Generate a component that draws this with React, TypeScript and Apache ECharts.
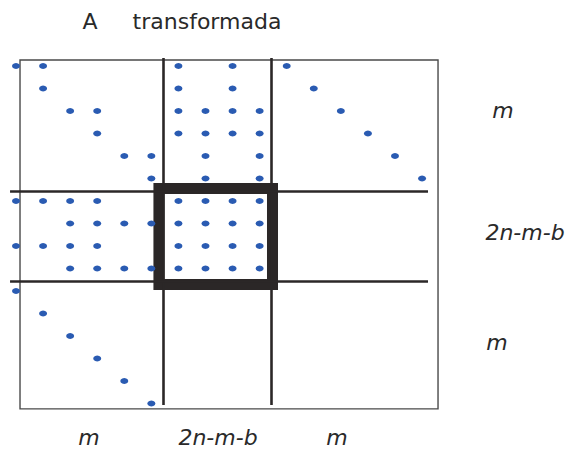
import React, { useEffect, useRef } from "react";
import * as echarts from "echarts";

// Sparsity pattern of the transformed matrix: column indices of non-zeros per row
const rowsTop: number[][] = [
  [0, 1, 6, 8, 10],
  [1, 6, 8, 11],
  [2, 3, 6, 7, 8, 9, 12],
  [3, 6, 7, 8, 9, 13],
  [4, 5, 7, 9, 14],
  [5, 7, 9, 15],
];
const rowsMiddle: number[][] = [
  [0, 1, 2, 3, 6, 7, 8, 9],
  [2, 3, 4, 5, 6, 7, 8, 9],
  [0, 1, 2, 3, 6, 7, 8, 9],
  [2, 3, 4, 5, 6, 7, 8, 9],
];
const rowsBottom: number[][] = [[0], [1], [2], [3], [4], [5]];

const blockLabels = ["m", "2n-m-b", "m"];
const titleWords = ["A", "transformada"];

// block boundaries (in matrix index units)
const verticalDividers = [5.43, 9.42];
const horizontalDividers = [5.55, 9.55];
const focusBlock = { x: [5.28, 9.475], y: [5.44, 9.71] };
const frameBox = { x: [0.148, 15.59], y: [-0.267, 15.24] };

export default function App() {
  const ref = useRef<HTMLDivElement>(null);
  useEffect(() => {
    if (!ref.current) return;
    const chart = echarts.init(ref.current, undefined, { renderer: "svg" });
    const allRows = [...rowsTop, ...rowsMiddle, ...rowsBottom];
    const points: number[][] = [];
    allRows.forEach((cols, r) => cols.forEach((c) => points.push([c, r])));

    const lineColor = "#2b2727";
    const markLines: any[] = [];
    verticalDividers.forEach((v) =>
      markLines.push([{ coord: [v, -0.356] }, { coord: [v, 15.07] }])
    );
    horizontalDividers.forEach((h) =>
      markLines.push([{ coord: [-0.22, h] }, { coord: [15.22, h] }])
    );

    const fontFamily = "'DejaVu Sans', sans-serif";
    const textColor = "#2a2a2a";
    const t = (x: number, y: number, text: string, italic: boolean) => ({
      type: "text",
      x,
      y,
      style: {
        text,
        font: `${italic ? "italic " : ""}22px ${fontFamily}`,
        fill: textColor,
        align: "center",
        verticalAlign: "middle",
      },
    });
    const graphic: any[] = [
      t(90, 21, titleWords[0], false),
      t(207, 21, titleWords[1], false),
      t(89, 437, blockLabels[0], true),
      t(218, 437, blockLabels[1], true),
      t(337, 437, blockLabels[2], true),
      t(503, 110, blockLabels[0], true),
      t(525, 232, blockLabels[1], true),
      t(497, 342, blockLabels[2], true),
    ];

    chart.setOption({
      animation: false,
      backgroundColor: "#ffffff",
      grid: { left: 2.47, top: 54.75, width: 16.2 * 27.07, height: 360, containLabel: false },
      xAxis: { type: "value", min: -0.5, max: 15.7, show: false },
      yAxis: { type: "value", min: -0.5, max: 15.5, inverse: true, show: false },
      graphic,
      series: [
        {
          type: "scatter",
          z: 2,
          clip: false,
          data: [],
          markArea: {
            silent: true,
            itemStyle: { color: "rgba(0,0,0,0)", borderColor: "#4a4a4a", borderWidth: 1.4 },
            data: [[{ coord: [frameBox.x[0], frameBox.y[0]] }, { coord: [frameBox.x[1], frameBox.y[1]] }]],
          },
        },
        {
          type: "scatter",
          z: 3,
          clip: false,
          symbol: "circle",
          symbolSize: [8, 6],
          itemStyle: { color: "#2a5bb2", opacity: 1 },
          data: points,
        },
        {
          type: "scatter",
          z: 4,
          clip: false,
          data: [],
          markLine: {
            silent: true,
            symbol: "none",
            label: { show: false },
            lineStyle: { color: lineColor, width: 2.6, type: "solid", opacity: 1 },
            data: markLines,
          },
        },
        {
          type: "scatter",
          z: 5,
          clip: false,
          data: [],
          markArea: {
            silent: true,
            itemStyle: { color: "rgba(0,0,0,0)", borderColor: lineColor, borderWidth: 11, opacity: 1 },
            data: [[{ coord: [focusBlock.x[0], focusBlock.y[0]] }, { coord: [focusBlock.x[1], focusBlock.y[1]] }]],
          },
        },
      ],
    });
    return () => chart.dispose();
  }, []);
  return (
    <div
      ref={ref}
      style={{ position: "fixed", left: 0, top: 0, width: 576, height: 450 }}
    />
  );
}
